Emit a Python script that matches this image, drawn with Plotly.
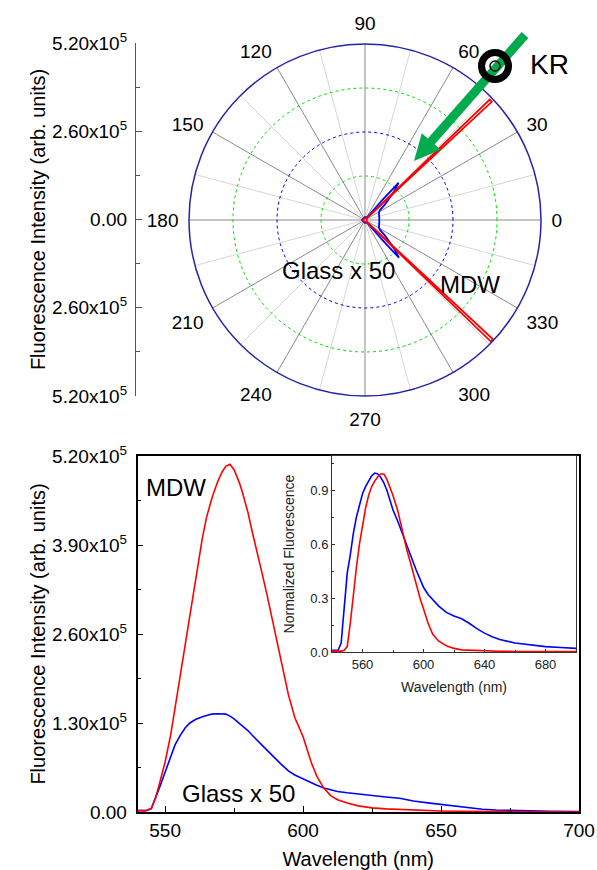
import numpy as np
import plotly.graph_objects as go

W, H = 597, 870

# ---------------- data ----------------
# polar emission pattern (deg, counts)
polar_theta_glass = [0, 10, 20, 30, 34, 38, 42, 45, 48, 49, 50, 52, 90, 180, 270, 308, 310, 311, 312, 315, 318, 322, 326, 330, 340, 350, 360]
polar_r_glass = [4.2e4, 4.3e4, 4.4e4, 4.8e4, 5.5e4, 7.5e4, 1.0e5, 1.25e5, 1.48e5, 8.0e4, 2.5e4, 9e3, 9e3, 9e3, 9e3, 9e3, 2.5e4, 8.0e4, 1.5e5, 1.25e5, 1.0e5, 7.5e4, 5.5e4, 4.8e4, 4.4e4, 4.3e4, 4.2e4]
polar_theta_mdw = [0, 20, 40, 42, 43, 44, 45, 60, 90, 180, 270, 300, 315, 316, 317, 318, 340, 360]
polar_r_mdw = [6e3, 6e3, 6e3, 6e3, 5.12e5, 5.12e5, 6e3, 6e3, 6e3, 6e3, 6e3, 6e3, 6e3, 5.17e5, 5.17e5, 6e3, 6e3, 6e3]
polar_rings = [1.3e5, 2.6e5, 3.9e5]
polar_ring_colors = ["#00e000", "#0000ff", "#00e000"]
polar_rmax = 5.2e5
angle_labels = list(range(0, 360, 30))
minor_spokes = list(range(15, 360, 30))

# spectra (nm, counts)
wl = [540, 543, 545, 546.5, 548, 550, 552, 553.6, 555.5, 557.3, 559, 561, 563.5, 565, 567, 569, 570.7, 572, 573.5, 575,
      577, 578, 580, 581.6, 583.5, 585.3, 587, 590, 592, 594.7, 597, 600, 603, 605, 607.5, 610, 612.5, 616, 620, 625,
      630, 635, 640, 646, 650, 655, 660, 665, 670, 680, 690, 700]
mdw = [2e3, 2e3, 5e3, 2.0e4, 4.2e4, 7.3e4, 1.12e5, 1.52e5, 2.0e5, 2.48e5, 2.92e5, 3.38e5, 4.0e5, 4.3e5, 4.59e5, 4.82e5, 4.97e5, 5.05e5, 5.08e5, 5.0e5,
       4.8e5, 4.67e5, 4.38e5, 4.09e5, 3.78e5, 3.46e5, 3.16e5, 2.59e5, 2.2e5, 1.71e5, 1.38e5, 1.1e5, 7.2e4, 5.2e4, 3.5e4, 2.4e4, 1.8e4, 1.3e4, 9e3, 6e3,
       4.5e3, 3.5e3, 3e3, 2e3, 1.5e3, 1.2e3, 1e3, 500, 500, 300, 200, 0]
glass = [2e3, 2e3, 5e3, 2.0e4, 3.6e4, 5.8e4, 8e4, 9.8e4, 1.12e5, 1.23e5, 1.3e5, 1.35e5, 1.39e5, 1.41e5, 1.43e5, 1.435e5, 1.435e5, 1.43e5, 1.4e5, 1.36e5,
         1.29e5, 1.26e5, 1.19e5, 1.12e5, 1.04e5, 9.7e4, 9e4, 7.8e4, 7e4, 6e4, 5.4e4, 4.8e4, 4.2e4, 3.9e4, 3.5e4, 3.2e4, 3.0e4, 2.8e4, 2.6e4, 2.4e4,
         2.2e4, 2.0e4, 1.6e4, 1.3e4, 1.1e4, 8e3, 6e3, 4e3, 3e3, 1.5e3, 1e3, 800]

# inset normalized spectra
wl_n = [540, 544, 546, 548, 550, 552, 554, 556, 558, 560, 562, 564, 566, 568, 570, 572, 574, 576, 578, 580, 583, 586, 589, 592,
        595, 598, 600, 603, 606, 610, 615, 620, 625, 630, 635, 640, 645, 650, 660, 670, 680, 690, 700]
glass_n = [.01, .01, .05, .27, .44, .54, .66, .75, .82, .88, .92, .95, .98, .995, .99, .97, .94, .9, .84, .79, .73, .66, .59, .52,
           .46, .4, .36, .32, .29, .255, .22, .2, .185, .16, .13, .105, .085, .07, .05, .04, .03, .025, .02]
mdw_n = [.005, .005, .005, .01, .03, .16, .33, .47, .6, .71, .8, .87, .92, .95, .975, .99, .99, .96, .92, .87, .79, .68, .57, .48,
         .38, .29, .24, .16, .1, .06, .035, .02, .012, .01, .008, .006, .005, .004, .003, .003, .003, .003, .003]

main_yticks = [0, 1.3e5, 2.6e5, 3.9e5, 5.2e5]
main_yticktext = ["0.00", "1.30x10<sup>5</sup>", "2.60x10<sup>5</sup>", "3.90x10<sup>5</sup>", "5.20x10<sup>5</sup>"]
top_yticks = [-5.2e5, -2.6e5, 0, 2.6e5, 5.2e5]
top_yticktext = ["5.20x10<sup>5</sup>", "2.60x10<sup>5</sup>", "0.00", "2.60x10<sup>5</sup>", "5.20x10<sup>5</sup>"]

RED = "#ff0000"
BLUE = "#0000ff"
FONT = "Liberation Sans, Arial, sans-serif"

def px(x):
    return x / W

def py(y):
    return 1 - y / H

fig = go.Figure()

# ---------------- polar panel ----------------
sp_t, sp_r = [], []
for a in minor_spokes:
    sp_t += [a, a, None]
    sp_r += [0, polar_rmax, None]
fig.add_trace(go.Scatterpolar(theta=sp_t, r=sp_r, mode="lines", line=dict(color="#d6d6d6", width=1),
                              subplot="polar", showlegend=False, hoverinfo="skip"))
ring_theta = np.linspace(0, 360, 181)
for rv, c in zip(polar_rings, polar_ring_colors):
    fig.add_trace(go.Scatterpolar(theta=ring_theta, r=[rv] * len(ring_theta), mode="lines",
                                  line=dict(color=c, width=1, dash="dot"), subplot="polar",
                                  showlegend=False, hoverinfo="skip"))
fig.add_trace(go.Scatterpolar(theta=polar_theta_glass, r=polar_r_glass, mode="lines",
                              line=dict(color=BLUE, width=1.8), subplot="polar", showlegend=False))
fig.add_trace(go.Scatterpolar(theta=polar_theta_mdw, r=polar_r_mdw, mode="lines",
                              line=dict(color=RED, width=1.8), subplot="polar", showlegend=False))

# empty trace so the left intensity scale of the polar panel is drawn
fig.add_trace(go.Scatter(x=[], y=[], xaxis="x3", yaxis="y3", showlegend=False, hoverinfo="skip"))

# ---------------- spectra ----------------
fig.add_trace(go.Scatter(x=wl, y=glass, mode="lines", line=dict(color=BLUE, width=1.6), xaxis="x", yaxis="y", showlegend=False))
fig.add_trace(go.Scatter(x=wl, y=mdw, mode="lines", line=dict(color=RED, width=1.6), xaxis="x", yaxis="y", showlegend=False))
fig.add_trace(go.Scatter(x=wl_n, y=glass_n, mode="lines", line=dict(color=BLUE, width=1.6), xaxis="x2", yaxis="y2", showlegend=False))
fig.add_trace(go.Scatter(x=wl_n, y=mdw_n, mode="lines", line=dict(color=RED, width=1.6), xaxis="x2", yaxis="y2", showlegend=False))

fig.update_layout(
    width=W, height=H, margin=dict(l=0, r=0, t=0, b=0, autoexpand=False),
    paper_bgcolor="white", plot_bgcolor="white",
    font=dict(family=FONT, color="black", size=18),
    polar=dict(
        domain=dict(x=[px(189), px(541)], y=[py(396), py(44)]),
        bgcolor="white",
        angularaxis=dict(rotation=0, direction="counterclockwise", tickmode="array", tickvals=angle_labels,
                         ticktext=[str(a) for a in angle_labels], tickfont=dict(size=19),
                         showgrid=True, gridcolor="#8a8a8a", gridwidth=1,
                         showline=True, linecolor="#2424a8", linewidth=1.5,
                         ticks="outside", ticklen=6, tickcolor="rgba(0,0,0,0)"),
        radialaxis=dict(range=[0, polar_rmax], showticklabels=False, showgrid=False, showline=False, ticks=""),
    ),
    # left scale of polar panel
    xaxis3=dict(domain=[px(136), px(150)], anchor="y3", visible=False, range=[0, 1]),
    yaxis3=dict(domain=[py(396), py(43)], anchor="x3", range=[-5.2e5, 5.2e5], tickmode="array",
                tickvals=top_yticks, ticktext=top_yticktext, ticks="inside", ticklen=6, tickcolor="#555",
                showline=True, linecolor="#555", linewidth=1.2, showgrid=False, zeroline=False,
                tickfont=dict(size=19), ticklabelstandoff=4,
                minor=dict(tickmode="array", tickvals=[-3.9e5, -1.3e5, 1.3e5, 3.9e5], ticks="inside", ticklen=4, tickcolor="#555"),
                title=dict(text="Fluorescence Intensity (arb. units)", font=dict(size=20), standoff=1)),
    # main spectrum
    xaxis=dict(domain=[px(137.5), px(579)], anchor="y", range=[540, 700], tickmode="array",
               tickvals=[550, 600, 650, 700], ticks="inside", ticklen=6, tickwidth=1.2, tickcolor="black",
               showline=True, linecolor="black", linewidth=1.5, mirror=True, showgrid=False, zeroline=False,
               minor=dict(tickmode="array", tickvals=[575, 625, 675], ticks="inside", ticklen=4, tickcolor="black"),
               title=dict(text="Wavelength (nm)", font=dict(size=20), standoff=12), tickfont=dict(size=19)),
    yaxis=dict(domain=[py(812), py(456)], anchor="x", range=[0, 5.2e5], tickmode="array",
               tickvals=main_yticks, ticktext=main_yticktext, ticks="inside", ticklen=6, tickwidth=1.2, tickcolor="black",
               showline=True, linecolor="black", linewidth=1.5, mirror=True, showgrid=False, zeroline=False,
               tickfont=dict(size=19), ticklabelstandoff=5,
               minor=dict(tickmode="array", tickvals=[6.5e4, 1.95e5, 3.25e5, 4.55e5], ticks="inside", ticklen=4, tickcolor="black"),
               title=dict(text="Fluorescence Intensity (arb. units)", font=dict(size=20), standoff=1)),
    # inset
    xaxis2=dict(domain=[px(332), px(576)], anchor="y2", range=[540, 700], tickmode="array",
                tickvals=[560, 600, 640, 680], ticks="inside", ticklen=3, tickcolor="#333",
                showline=True, linecolor="#333", linewidth=1, mirror=True, showgrid=False, zeroline=False,
                minor=dict(tickmode="array", tickvals=[580, 620, 660], ticks="inside", ticklen=2, tickcolor="#333"),
                tickfont=dict(size=13, color="#222"),
                title=dict(text="Wavelength (nm)", font=dict(size=14, color="#222"), standoff=11)),
    yaxis2=dict(domain=[py(652), py(456)], anchor="x2", range=[0, 1.09], tickmode="array",
                tickvals=[0, 0.3, 0.6, 0.9], ticktext=["0.0", "0.3", "0.6", "0.9"], ticks="inside", ticklen=3, tickcolor="#333",
                showline=True, linecolor="#333", linewidth=1, mirror=True, showgrid=False, zeroline=False,
                minor=dict(tickmode="array", tickvals=[0.15, 0.45, 0.75, 1.05], ticks="inside", ticklen=2, tickcolor="#333"),
                tickfont=dict(size=13, color="#222"),
                title=dict(text="Normalized Fluorescence", font=dict(size=14, color="#222"), standoff=12)),
)

# ---------------- annotations ----------------
def label(text, x, y, size):
    fig.add_annotation(text=text, x=px(x), y=py(y), xref="paper", yref="paper", showarrow=False,
                       xanchor="center", yanchor="middle", font=dict(size=size, color="black", family=FONT))

label("Glass x 50", 338, 271, 24)
label("MDW", 470, 284, 24)
label("KR", 549, 64, 28)
label("MDW", 176, 487, 24)
label("Glass x 50", 238, 793, 24)

# green excitation arrow and KR symbol
GREEN = "#00ab4e"
tail = np.array([525.0, 35.0])
tip = np.array([414.0, 161.0])
u = (tip - tail) / np.linalg.norm(tip - tail)
n = np.array([-u[1], u[0]])
head_len, head_half = 26.0, 12.5
base = tip - head_len * u
c1 = base + head_half * n
c2 = base - head_half * n
shaft_end = base + 3 * u
fig.add_shape(type="line", xref="paper", yref="paper", x0=px(tail[0]), y0=py(tail[1]), x1=px(shaft_end[0]), y1=py(shaft_end[1]),
              line=dict(color=GREEN, width=9), layer="above")
fig.add_shape(type="path", xref="paper", yref="paper",
              path=f"M {px(tip[0])},{py(tip[1])} L {px(c1[0])},{py(c1[1])} L {px(c2[0])},{py(c2[1])} Z",
              fillcolor=GREEN, line=dict(color=GREEN, width=0), layer="above")
cx, cy = 495.0, 66.0
for rr, lw in [(13.5, 7), (5.0, 1.5)]:
    fig.add_shape(type="circle", xref="paper", yref="paper", x0=px(cx - rr), x1=px(cx + rr), y0=py(cy + rr), y1=py(cy - rr),
                  line=dict(color="black", width=lw), fillcolor="rgba(0,0,0,0)", layer="above")

fig.write_html("out.html", config={"displayModeBar": False},
               post_script="document.body.style.margin='0px';document.body.style.overflow='hidden';")
